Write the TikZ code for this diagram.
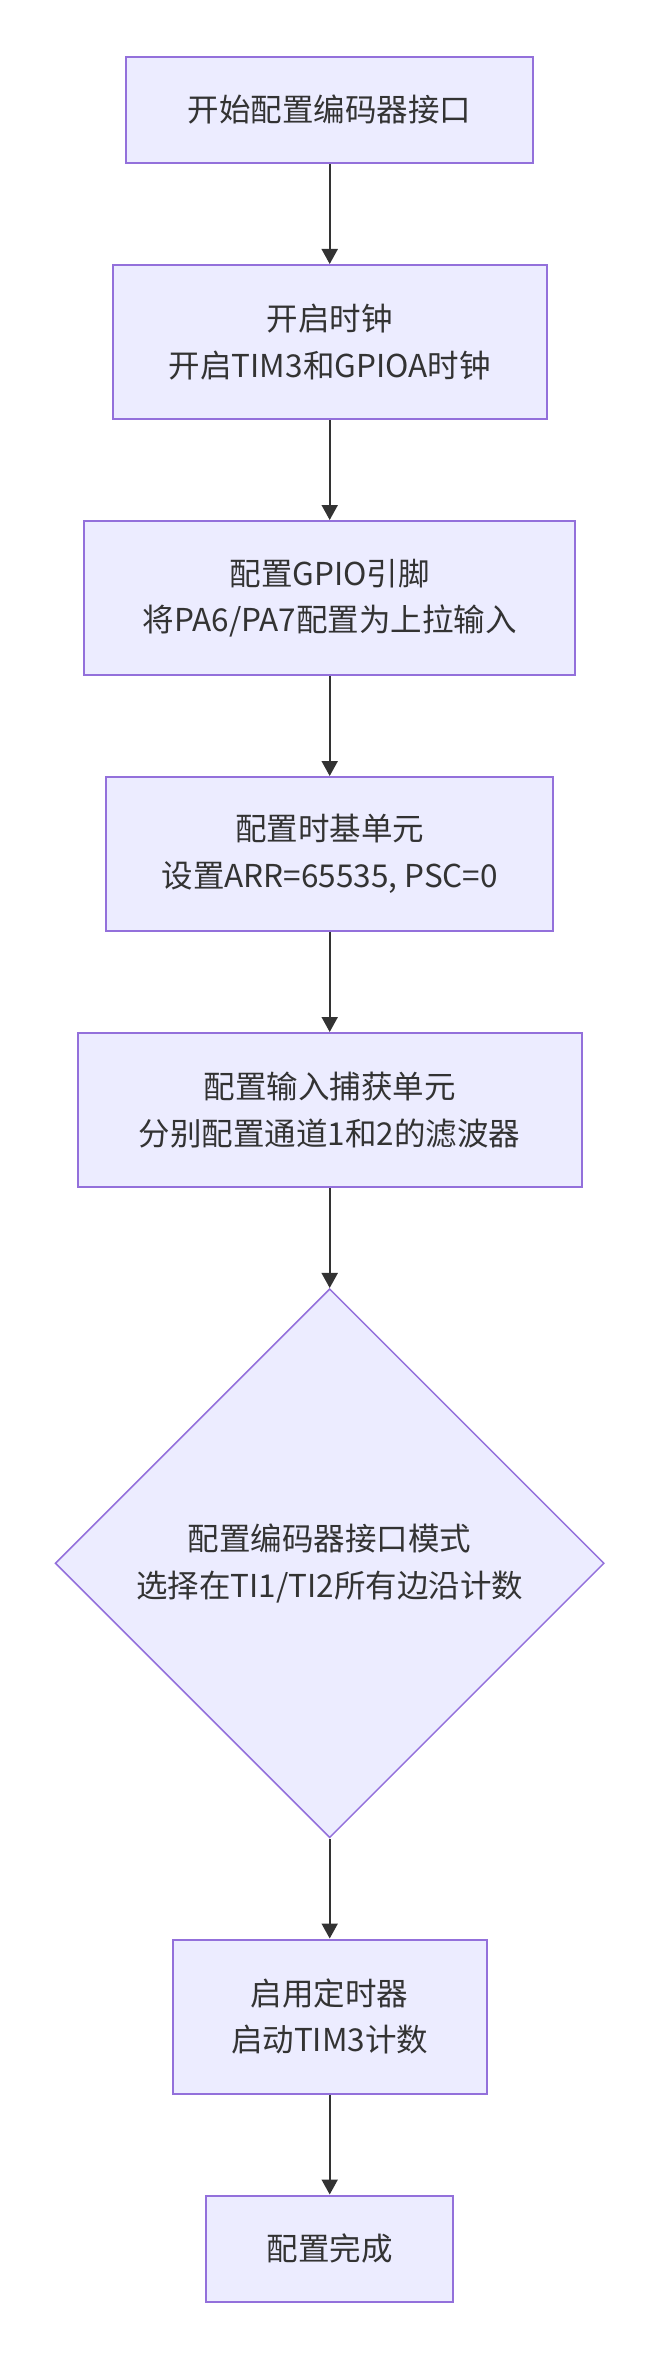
\documentclass[tikz,border=0pt]{standalone}
\usepackage{fontspec}
\setmainfont{Noto Sans CJK SC}
\usepackage{xcolor}
\usepackage{tikz}
\usetikzlibrary{arrows.meta,positioning,shapes.geometric}
\definecolor{nodefill}{HTML}{ECECFF}
\definecolor{nodeline}{HTML}{9370DB}
\definecolor{inkgray}{HTML}{333333}

\begin{document}
\begin{tikzpicture}[
    x=1pt, y=1pt,
    node distance=100pt,
    every node/.style={font=\fontsize{31.5}{46.5}\selectfont, text=inkgray},
    box/.style={draw=nodeline, fill=nodefill, line width=2pt, align=center,
      minimum height=154pt, inner sep=0pt},
    decision/.style={diamond, draw=nodeline, fill=nodefill, line width=1.5pt,
      align=center, minimum width=549pt, minimum height=549pt, inner sep=0pt},
    flow/.style={-{Triangle[length=15pt, width=16pt]}, line width=2pt, draw=inkgray}
  ]
    \useasboundingbox (0,0) rectangle (661,-2357);
    \node[box, minimum width=407pt, minimum height=106pt] (start) at (329.7,-110) {开始配置编码器接口};
    \node[box, minimum width=434pt, below=of start] (clock) {开启时钟\\开启TIM3和GPIOA时钟};
    \node[box, minimum width=491pt, below=of clock] (gpio) {配置GPIO引脚\\将PA6/PA7配置为上拉输入};
    \node[box, minimum width=447pt, below=of gpio] (timebase) {配置时基单元\\设置ARR=65535, PSC=0};
    \node[box, minimum width=504pt, below=of timebase] (capture) {配置输入捕获单元\\分别配置通道1和2的滤波器};
    \node[decision, below=of capture] (encmode) {配置编码器接口模式\\选择在TI1/TI2所有边沿计数};
    \node[box, minimum width=314pt, below=of encmode] (enable) {启用定时器\\启动TIM3计数};
    \node[box, minimum width=247pt, minimum height=106pt, below=of enable] (done) {配置完成};
    \draw[flow] (start) -- (clock);
    \draw[flow] (clock) -- (gpio);
    \draw[flow] (gpio) -- (timebase);
    \draw[flow] (timebase) -- (capture);
    \draw[flow] (capture) -- (encmode);
    \draw[flow] (encmode) -- (enable);
    \draw[flow] (enable) -- (done);
  \end{tikzpicture}
\end{document}
